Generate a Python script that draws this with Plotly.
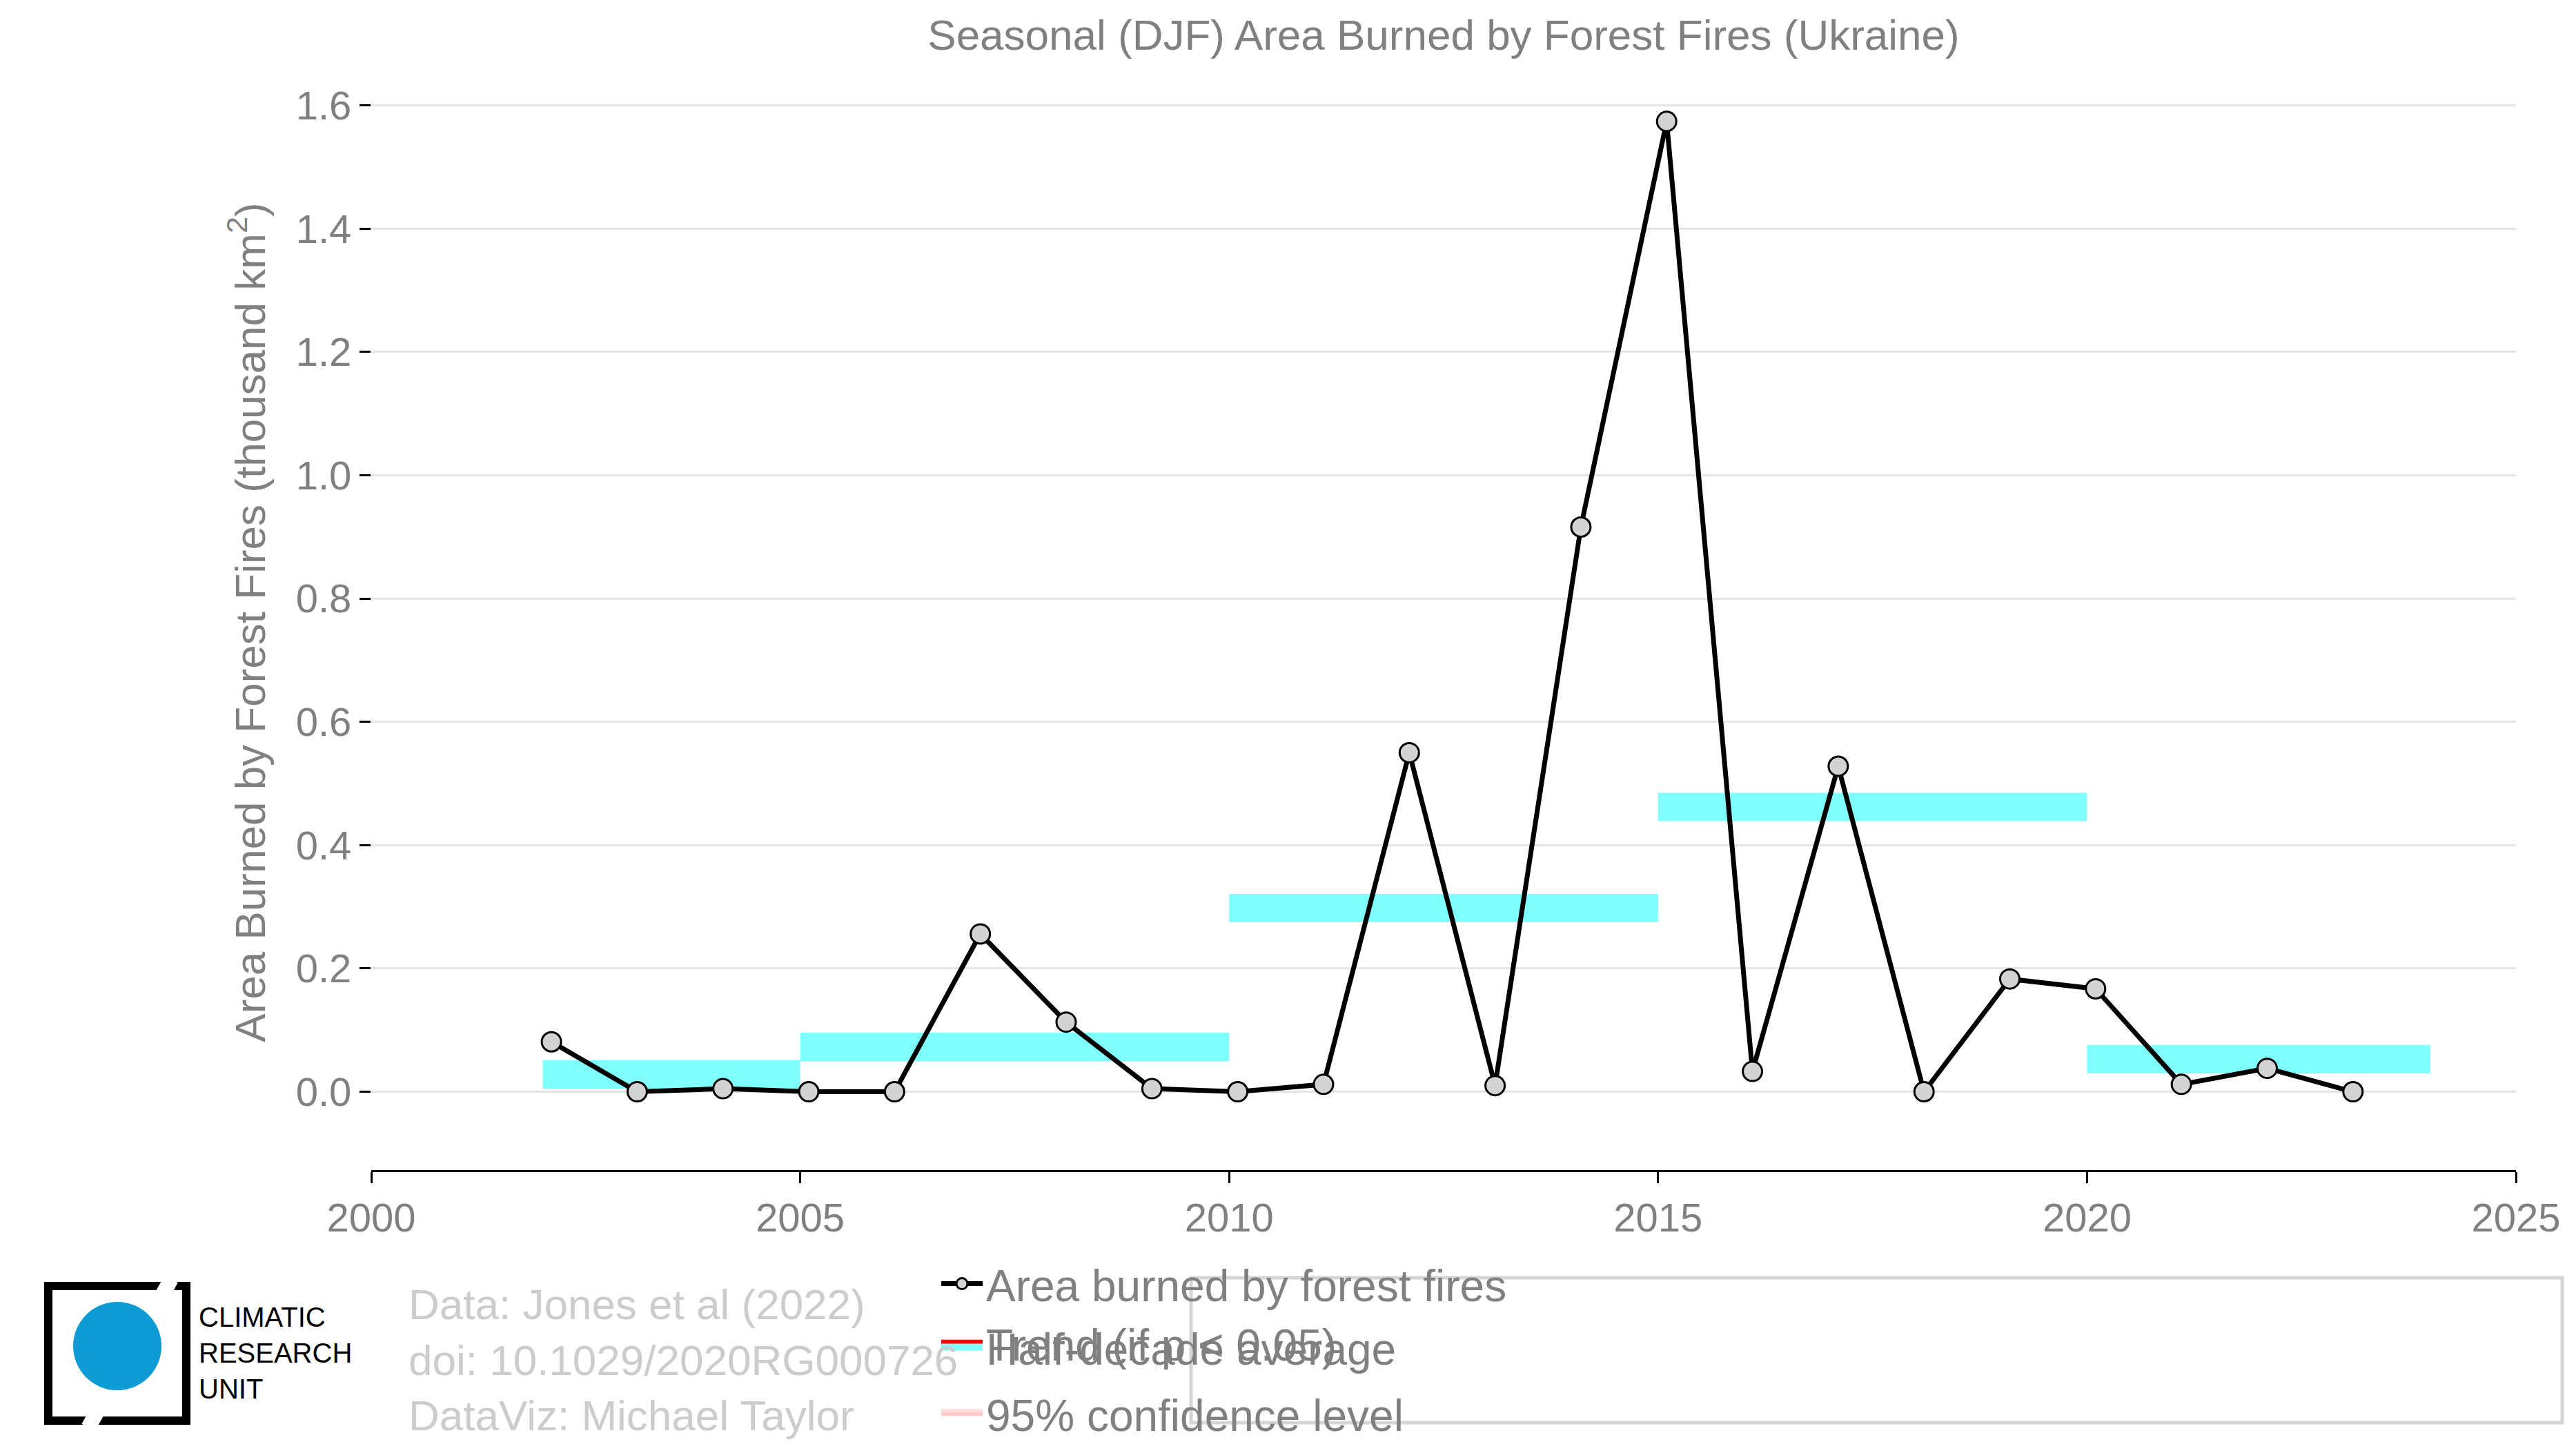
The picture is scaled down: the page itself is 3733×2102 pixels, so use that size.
import plotly.graph_objects as go

years = [2002, 2003, 2004, 2005, 2006, 2007, 2008, 2009, 2010, 2011, 2012,
         2013, 2014, 2015, 2016, 2017, 2018, 2019, 2020, 2021, 2022, 2023]
area = [0.081, 0.0, 0.005, 0.0, 0.0, 0.256, 0.113, 0.005, 0.0, 0.012, 0.55,
        0.01, 0.916, 1.574, 0.033, 0.528, 0.0, 0.183, 0.167, 0.012, 0.038, 0.0]
half_start = [2002, 2005, 2010, 2015, 2020]
half_end = [2005, 2010, 2015, 2020, 2024]
half_mean = [0.028, 0.073, 0.298, 0.462, 0.053]

W, H = 3733, 2102
L, R, T, B = 530, 95, 100, 415


def px(x):
    return (x - L) / (W - L - R)


def py_(y):
    return (H - B - y) / (H - B - T)


grey = "#808080"
fig = go.Figure()

for i, (s, e, m) in enumerate(zip(half_start, half_end, half_mean)):
    fig.add_trace(go.Scatter(
        x=[s, e], y=[m, m], mode="lines", name="Half-decade average",
        line=dict(color="#80ffff", width=41), showlegend=(i == 0),
        legendgroup="half", legend="legend2", legendrank=1,
    ))
fig.add_trace(go.Scatter(
    x=[None], y=[None], mode="lines", name="95% confidence level",
    fill="toself", fillcolor="rgba(255,0,0,0.1)",
    line=dict(color="rgba(255,0,0,0.12)", width=30),
    legend="legend2", legendrank=2,
))
xs = [y + 0.1 for y in years]
fig.add_trace(go.Scatter(
    x=xs, y=area, mode="lines+markers", name="Area burned by forest fires",
    line=dict(color="black", width=7),
    marker=dict(size=28, color="lightgray", line=dict(color="black", width=3)),
    legendrank=1,
))
fig.add_trace(go.Scatter(
    x=[None], y=[None], mode="lines", name="Trend (if p < 0.05)",
    line=dict(color="red", width=10), legendrank=2,
))

shapes = [
    dict(type="rect", xref="paper", yref="paper",
         x0=px(62), x1=px(262), y0=py_(1855), y1=py_(2050),
         line=dict(color="black", width=12)),
    dict(type="line", xref="paper", yref="paper",
         x0=px(240), x1=px(120), y0=py_(1845), y1=py_(2060),
         line=dict(color="white", width=22)),
    dict(type="circle", xref="paper", yref="paper",
         x0=px(98), x1=px(226), y0=py_(1878), y1=py_(2006),
         fillcolor="#0e9bd6", line=dict(width=0)),
    dict(type="rect", xref="paper", yref="paper",
         x0=px(1718), x1=px(3705), y0=py_(1843), y1=py_(2053),
         line=dict(color="#d5d5d5", width=5), fillcolor="rgba(0,0,0,0)"),
]
annotations = [
    dict(text="CLIMATIC<br>RESEARCH<br>UNIT", xref="paper", yref="paper",
         x=px(278), y=py_(1952), xanchor="left", yanchor="middle",
         showarrow=False, align="left",
         font=dict(size=40, color="black", family="Liberation Sans")),
    dict(text="Data: Jones et al (2022)<br>doi: 10.1029/2020RG000726<br>DataViz: Michael Taylor",
         xref="paper", yref="paper", x=px(582), y=py_(1962),
         xanchor="left", yanchor="middle", showarrow=False, align="left",
         font=dict(size=62, color="#cccccc", family="Liberation Sans")),
]

leg = dict(orientation="h", xanchor="left", yanchor="middle",
           entrywidth=1110, entrywidthmode="pixels", bgcolor="rgba(0,0,0,0)",
           borderwidth=0, font=dict(size=64, color=grey), itemwidth=60)

fig.update_layout(
    width=W, height=H, paper_bgcolor="white", plot_bgcolor="white",
    margin=dict(l=L, r=R, t=T, b=B),
    font=dict(family="Liberation Sans", color=grey, size=58),
    title=dict(text="Seasonal (DJF) Area Burned by Forest Fires (Ukraine)",
               x=(L + 0.5 * (W - L - R)) / W, y=0.99, yanchor="top",
               font=dict(size=62, color=grey)),
    xaxis=dict(range=[2000, 2025], dtick=5, showgrid=False, showline=True,
               linecolor="black", linewidth=3, ticks="outside", ticklen=16,
               tickwidth=3, tickcolor="black", zeroline=False,
               tickfont=dict(size=58, color=grey)),
    yaxis=dict(range=[-0.127, 1.65], tickvals=[0, 0.2, 0.4, 0.6, 0.8, 1.0, 1.2, 1.4, 1.6],
               tickformat=".1f", showgrid=True, gridcolor="#e5e5e5", gridwidth=3,
               zeroline=False, showline=False, ticks="outside", ticklen=16,
               tickwidth=3, tickcolor="black",
               title=dict(text="Area Burned by Forest Fires (thousand km<sup>2</sup>)",
                          font=dict(size=62, color=grey), standoff=24),
               tickfont=dict(size=58, color=grey)),
    legend=dict(leg, x=px(1728), y=py_(1895)),
    legend2=dict(leg, x=px(1728), y=py_(1992)),
    shapes=shapes, annotations=annotations,
)

fig.write_html("out.html")
